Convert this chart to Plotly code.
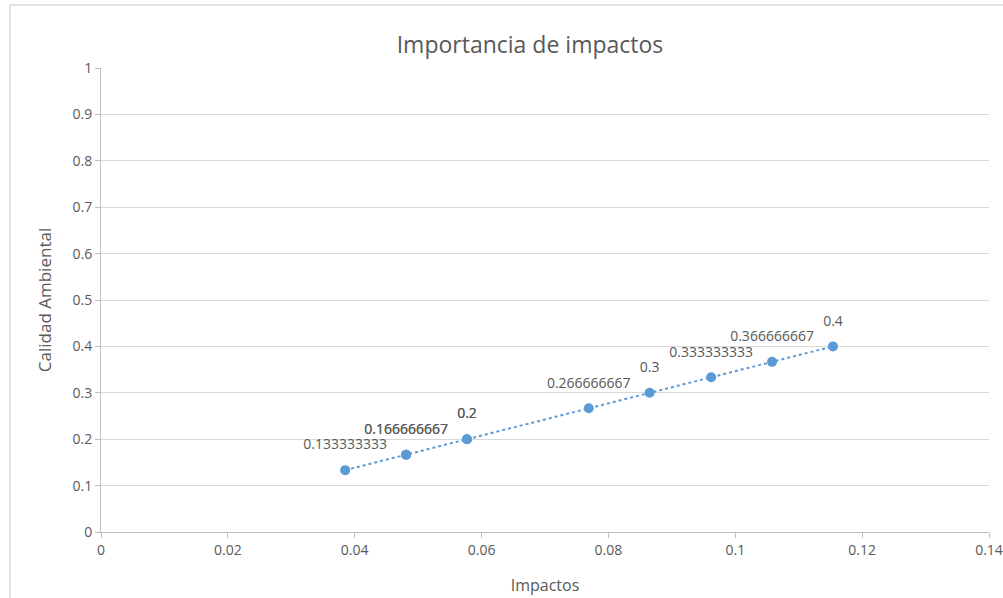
import plotly.graph_objects as go

# Impact scores and the environmental quality values they map to
impactos = [0.0385, 0.0481, 0.0481, 0.0577, 0.0577, 0.0769, 0.0865, 0.0962, 0.1058, 0.1154]
calidad = [0.133333333, 0.166666667, 0.166666667, 0.2, 0.2, 0.266666667, 0.3, 0.333333333, 0.366666667, 0.4]
etiquetas = ["0.133333333", "0.166666667", "0.166666667", "0.2", "0.2", "0.266666667",
             "0.3", "0.333333333", "0.366666667", "0.4"]

x_ticks = [0, 0.02, 0.04, 0.06, 0.08, 0.1, 0.12, 0.14]
x_tick_text = ["0", "0.02", "0.04", "0.06", "0.08", "0.1", "0.12", "0.14"]
y_ticks = [0, 0.1, 0.2, 0.3, 0.4, 0.5, 0.6, 0.7, 0.8, 0.9, 1]
y_tick_text = ["0", "0.1", "0.2", "0.3", "0.4", "0.5", "0.6", "0.7", "0.8", "0.9", "1"]

FONT = "'Open Sans', Lato, sans-serif"
GREY = "#595959"
BLUE = "#5b9bd5"

fig = go.Figure()
# dotted connector and markers
fig.add_trace(go.Scatter(
    x=impactos, y=calidad,
    mode="lines+markers",
    line=dict(color=BLUE, width=2, dash="dot"),
    marker=dict(color=BLUE, size=10),
    showlegend=False, hoverinfo="skip",
))
# value labels, lifted by a wide invisible marker
fig.add_trace(go.Scatter(
    x=impactos, y=calidad,
    mode="markers+text",
    marker=dict(size=26, opacity=0),
    text=etiquetas,
    textposition="top center",
    textfont=dict(family=FONT, size=14, color=GREY),
    cliponaxis=False,
    showlegend=False,
))

fig.update_layout(
    width=1003, height=598,
    margin=dict(l=101, r=14, t=68, b=66),
    paper_bgcolor="white", plot_bgcolor="white",
    title=dict(text="Importancia de impactos", x=530 / 1003, xanchor="center",
               y=1 - 45 / 598, yanchor="middle",
               font=dict(family=FONT, size=23, color=GREY)),
    xaxis=dict(range=[0, 0.14], tickvals=x_ticks, ticktext=x_tick_text,
               automargin=False,
               showgrid=False, zeroline=False,
               showline=True, linecolor="#bfbfbf", linewidth=1,
               ticks="outside", ticklen=5, tickcolor="#bfbfbf",
               tickfont=dict(family=FONT, size=14, color=GREY),
               title=dict(text="Impactos", standoff=22,
                          font=dict(family=FONT, size=16, color=GREY))),
    yaxis=dict(range=[0, 1], tickvals=y_ticks, ticktext=y_tick_text,
               automargin=False,
               showgrid=True, gridcolor="#d9d9d9", gridwidth=1, zeroline=False,
               showline=True, linecolor="#bfbfbf", linewidth=1,
               ticks="outside", ticklen=5, tickcolor="#bfbfbf",
               tickfont=dict(family=FONT, size=14, color=GREY),
               title=dict(text="Calidad Ambiental", standoff=16,
                          font=dict(family=FONT, size=17, color=GREY))),
    shapes=[dict(type="rect", xref="paper", yref="paper",
                 x0=(10 - 101) / 888, x1=1.2, y0=-0.3, y1=(531.5 - 5) / 463.5,
                 line=dict(color="#d9d9d9", width=1.5), layer="below")],
)

fig.write_html("out.html")
